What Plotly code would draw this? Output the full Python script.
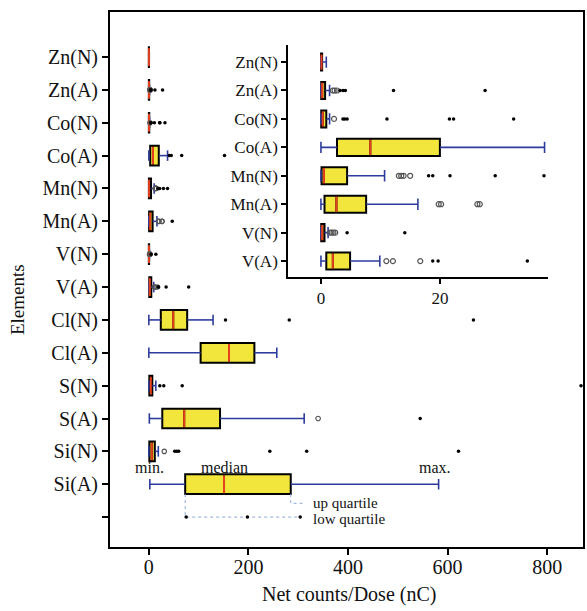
import plotly.graph_objects as go

# ---------------- data (bottom -> top) ----------------
categories = ["Si(A)", "Si(N)", "S(A)", "S(N)", "Cl(A)", "Cl(N)", "V(A)", "V(N)",
              "Mn(A)", "Mn(N)", "Co(A)", "Co(N)", "Zn(A)", "Zn(N)"]
whisker_low = [2, 0, 1, 0, 0, 0, 0, 0, 0, 0, 0, 0, 0, 0]
q1 = [73, 1, 27, 1, 104, 24, 0.9, 0.05, 0.6, 0.1, 2.7, 0.05, 0.05, 0.02]
median = [151, 6, 71, 4, 161, 49, 2.0, 0.2, 2.6, 0.5, 8.3, 0.3, 0.2, 0.1]
q3 = [285, 12, 143, 7, 212, 77, 4.9, 0.6, 7.6, 4.4, 20, 0.9, 0.7, 0.2]
whisker_high = [582, 19, 312, 14, 257, 129, 9.9, 1.2, 16.3, 10.7, 37.6, 1.45, 1.45, 0.9]

outliers_dot = {
    "Si(N)": [52, 56, 60, 243, 317, 622],
    "S(A)": [545],
    "S(N)": [22, 30, 67, 868],
    "Cl(N)": [154, 282, 652],
    "V(A)": [18.8, 19.7, 34.7, 80],
    "V(N)": [4.4, 14.1],
    "Mn(A)": [47],
    "Mn(N)": [18.1, 18.8, 21.7, 29.3, 37.5],
    "Co(A)": [41, 45, 66, 152],
    "Co(N)": [3.7, 4.0, 4.4, 11.1, 21.6, 22.3, 32.4],
    "Zn(A)": [3.2, 3.7, 4.1, 12.2, 27.6],
}
outliers_open = {
    "Si(N)": [31],
    "S(A)": [340],
    "V(A)": [11.0, 12.1, 16.7],
    "V(N)": [1.5, 1.8, 2.1, 2.4],
    "Mn(A)": [19.8, 20.2, 26.3, 26.7],
    "Mn(N)": [13.1, 13.5, 13.9, 15.0],
    "Co(N)": [2.2],
    "Zn(A)": [2.0, 2.3, 2.7],
}

inset_categories = categories[6:]          # V(A) ... Zn(N)
main_ticks = [0, 200, 400, 600, 800]
inset_ticks = [0, 20]

# explanatory guide (drawn under Si(A))
guide_dots = [75, 198, 304]
guide_text_x = 325

# ---------------- styles ----------------
FONT = "Liberation Serif"
YELLOW = "#f2e63c"
RED = "#e8401c"
BLUE = "#2d3c9c"
GUIDE = "#8fa9d8"

fig = go.Figure()


def add_boxes(idx, pos, xa, ya, box_w, cap_h, dot_size, open_size):
    # box bodies
    fig.add_trace(go.Box(
        y=pos, q1=[q1[i] for i in idx], median=[median[i] for i in idx],
        q3=[q3[i] for i in idx], lowerfence=[q1[i] for i in idx],
        upperfence=[q3[i] for i in idx], orientation="h", width=box_w,
        fillcolor=YELLOW, line=dict(color="black", width=2), whiskerwidth=0,
        boxpoints=False, xaxis=xa, yaxis=ya, showlegend=False, hoverinfo="skip"))
    # whiskers + caps
    wx, wy = [], []
    for i, p in zip(idx, pos):
        wx += [whisker_low[i], q1[i], None, q3[i], whisker_high[i], None,
               whisker_low[i], whisker_low[i], None, whisker_high[i], whisker_high[i], None]
        wy += [p, p, None, p, p, None,
               p - cap_h, p + cap_h, None, p - cap_h, p + cap_h, None]
    fig.add_trace(go.Scatter(x=wx, y=wy, mode="lines", line=dict(color=BLUE, width=1.6),
                             xaxis=xa, yaxis=ya, showlegend=False, hoverinfo="skip"))
    # medians
    mx, my = [], []
    for i, p in zip(idx, pos):
        mx += [median[i], median[i], None]
        my += [p - box_w / 2 + 0.03, p + box_w / 2 - 0.03, None]
    fig.add_trace(go.Scatter(x=mx, y=my, mode="lines", line=dict(color=RED, width=2),
                             xaxis=xa, yaxis=ya, showlegend=False, hoverinfo="skip"))
    # outliers
    ox, oy, cx, cy = [], [], [], []
    for i, p in zip(idx, pos):
        for v in outliers_dot.get(categories[i], []):
            ox.append(v); oy.append(p)
        for v in outliers_open.get(categories[i], []):
            cx.append(v); cy.append(p)
    fig.add_trace(go.Scatter(x=cx, y=cy, mode="markers",
                             marker=dict(symbol="circle-open", size=open_size, color="#555",
                                         line=dict(width=1.2)),
                             xaxis=xa, yaxis=ya, showlegend=False, hoverinfo="skip"))
    fig.add_trace(go.Scatter(x=ox, y=oy, mode="markers",
                             marker=dict(size=dot_size, color="black"),
                             xaxis=xa, yaxis=ya, showlegend=False, hoverinfo="skip"))


main_idx = list(range(len(categories)))
main_pos = [i + 1 for i in main_idx]
add_boxes(main_idx, main_pos, "x", "y", 0.6, 0.16, 3.5, 4.5)

inset_idx = list(range(6, len(categories)))
inset_pos = [i - 6 for i in inset_idx]
add_boxes(inset_idx, inset_pos, "x2", "y2", 0.6, 0.2, 3.5, 5)

# guide lines for Si(A)
sa = 0
fig.add_trace(go.Scatter(x=[q1[sa], q1[sa], guide_dots[-1]], y=[0.7, 0, 0], mode="lines",
                         line=dict(color=GUIDE, width=1, dash="dot"),
                         showlegend=False, hoverinfo="skip"))
fig.add_trace(go.Scatter(x=[q3[sa], q3[sa], guide_text_x - 13], y=[0.7, 0.42, 0.42], mode="lines",
                         line=dict(color=GUIDE, width=1, dash="dot"),
                         showlegend=False, hoverinfo="skip"))
fig.add_trace(go.Scatter(x=guide_dots, y=[0] * len(guide_dots), mode="markers",
                         marker=dict(size=3.5, color="black"),
                         showlegend=False, hoverinfo="skip"))

ann_font = dict(family=FONT, size=16, color="#111")
guide_font = dict(family=FONT, size=15, color="#111")
annotations = [
    dict(x=whisker_low[sa], y=1, text="min.", showarrow=False, yshift=17, font=ann_font),
    dict(x=median[sa], y=1, text="median", showarrow=False, yshift=17, font=ann_font),
    dict(x=whisker_high[sa], y=1, text="max.", showarrow=False, yshift=17, xshift=-4, font=ann_font),
    dict(x=guide_text_x, y=0.44, text="up quartile", showarrow=False, xanchor="left",
         yanchor="middle", font=guide_font),
    dict(x=guide_text_x, y=-0.06, text="low quartile", showarrow=False, xanchor="left",
         yanchor="middle", font=guide_font),
    dict(xref="paper", yref="paper", x=-0.194, y=0.462, text="Elements", textangle=-90,
         xanchor="center", yanchor="middle",
         showarrow=False, font=dict(family=FONT, size=19, color="#111")),
    dict(xref="paper", yref="paper", x=0.505, y=-0.088, text="Net counts/Dose (nC)",
         xanchor="center", yanchor="middle",
         showarrow=False, font=dict(family=FONT, size=20, color="#111")),
]

axis_common = dict(showgrid=False, zeroline=False, showline=True, linecolor="black",
                   linewidth=2, ticks="outside", tickcolor="black", tickwidth=2)

fig.update_layout(
    width=587, height=611, autosize=False,
    margin=dict(l=110, r=2, t=12, b=64),
    paper_bgcolor="white", plot_bgcolor="white",
    font=dict(family=FONT, size=18, color="#111"),
    showlegend=False,
    annotations=annotations,
    xaxis=dict(range=[-78, 872], tickvals=main_ticks, ticklen=6, mirror=True,
               ticklabelstandoff=-5,
               tickfont=dict(family=FONT, size=20), **axis_common),
    yaxis=dict(range=[-0.91, 15.37], tickvals=[0] + main_pos, ticktext=[""] + categories,
               ticklen=6, mirror=True, tickfont=dict(family=FONT, size=20), **axis_common),
    xaxis2=dict(domain=[0.3768, 0.9263], anchor="y2", range=[-5.5, 38.2],
                tickvals=inset_ticks, ticklen=5, tickfont=dict(family=FONT, size=17), **axis_common),
    yaxis2=dict(domain=[0.5047, 0.9383], anchor="x2", range=[-0.56, 7.6],
                tickvals=inset_pos, ticktext=inset_categories, ticklen=5,
                tickfont=dict(family=FONT, size=17), **axis_common),
)

fig.write_html(
    "out.html",
    config={"displayModeBar": False},
    post_script="document.body.style.margin='0';document.body.style.overflow='hidden';",
)
